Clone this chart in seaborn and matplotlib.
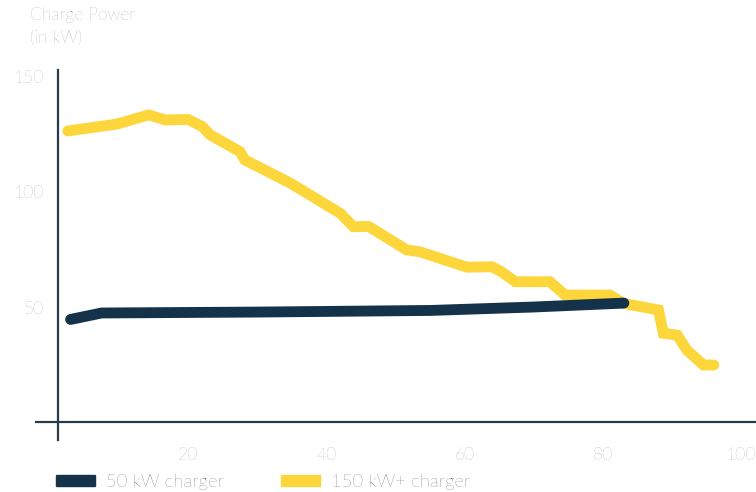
import matplotlib
matplotlib.use("Agg")
import matplotlib.pyplot as plt
from matplotlib.patches import Patch
import seaborn as sns
import pandas as pd

# state of charge (%) vs charge power (kW)
soc_fast = [2.6, 9.7, 14.3, 16.7, 20, 22, 23.2, 27.5, 28.2, 34.8, 42, 43.9, 46.1,
            51.6, 53.5, 60.3, 63.9, 65.3, 67.3, 72.3, 74.5, 81, 82.9, 88, 88.7,
            90.7, 92.1, 94.5, 96]
kw_fast = [126.5, 129.5, 133.5, 131.3, 131.5, 128.5, 124.8, 117.5, 113.9, 103.8, 90.7,
           84.9, 85.0, 74.8, 74.0, 67.3, 67.5, 65.3, 61, 61, 55.2, 55.2, 51.6, 48.7,
           38.6, 37.8, 31.3, 24.8, 24.8]
soc_slow = [3, 7.5, 30, 55, 70, 83]
kw_slow = [44.6, 47.4, 47.8, 48.5, 50.0, 51.7]

label_slow = "50 kW charger"
label_fast = "150 kW+ charger"
navy = "#14334a"
yellow = "#fcd63a"
grey = "#8e8e8e"

df = pd.concat([
    pd.DataFrame({"soc": soc_fast, "kw": kw_fast, "charger": label_fast}),
    pd.DataFrame({"soc": soc_slow, "kw": kw_slow, "charger": label_slow}),
])

sns.set_style("white")
plt.rcParams["font.family"] = ["Lato", "DejaVu Sans"]

fig = plt.figure(figsize=(7.56, 4.92), dpi=100)
ax = fig.add_axes([0.0476, 0.1057, 0.9524, 0.752])
sns.lineplot(data=df, x="soc", y="kw", hue="charger", sort=False,
             hue_order=[label_fast, label_slow],
             palette={label_fast: yellow, label_slow: navy},
             linewidth=7.8, legend=False, ax=ax)
for ln in ax.lines:
    ln.set_solid_capstyle("round")
    ln.set_solid_joinstyle("miter")

ax.set_xlim(-2, 102.1)
ax.set_ylim(-7.8, 153)
ax.spines["top"].set_visible(False)
ax.spines["right"].set_visible(False)
ax.spines["left"].set_position(("data", 1.15))
ax.spines["bottom"].set_position(("data", 0))
for s in ("left", "bottom"):
    ax.spines[s].set_color("#2a3b47")
    ax.spines[s].set_linewidth(1.6)
ax.set_xticks([20, 40, 60, 80, 100])
ax.set_yticks([50, 100, 150])
ax.tick_params(length=0, labelsize=12.5, labelcolor=grey)
for t in ax.get_xticklabels() + ax.get_yticklabels():
    t.set_fontweight("light")
ax.tick_params(axis="y", pad=10)
ax.tick_params(axis="x", pad=18)
ax.set_xlabel("")
ax.set_ylabel("")

fig.text(0.040, 0.985, "Charge Power\n(in kW)", ha="left", va="top",
         fontsize=12.5, color=grey, fontweight="light", linespacing=1.5)

handles = [Patch(color=navy, label=label_slow), Patch(color=yellow, label=label_fast)]
fig.legend(handles=handles, loc="lower left", bbox_to_anchor=(0.052, -0.03),
           ncol=2, frameon=False, handlelength=2.1, handleheight=0.55,
           columnspacing=3.1, handletextpad=0.6, labelcolor="#333333",
           prop={"weight": "light", "size": 13.3})

fig.savefig("out.png", dpi=100)
